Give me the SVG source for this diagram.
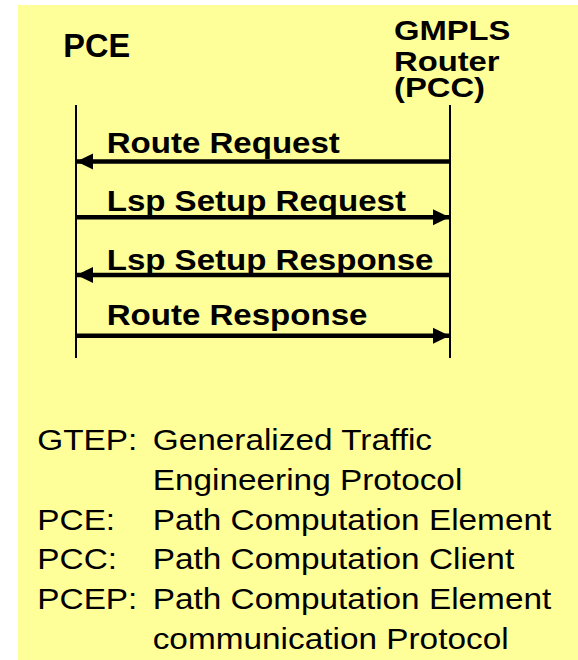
<svg xmlns="http://www.w3.org/2000/svg" width="578" height="660" viewBox="0 0 578 660">
<defs>
<style>
.bg{fill:#FFFF99}
.life{stroke:#000;stroke-width:2;fill:none}
.msg{stroke:#000;stroke-width:4.5;fill:none}
.b{font-family:"Liberation Sans",Arial,sans-serif;font-weight:bold;fill:#000}
.r{font-family:"Liberation Sans",Arial,sans-serif;fill:#000}
.lbl{font-size:29px}
.leg{font-size:29px}
</style>
<marker id="ah" markerUnits="userSpaceOnUse" markerWidth="17" markerHeight="17" viewBox="0 0 17 17" refX="16" refY="8.5" orient="auto">
<path d="M0,0.5 L16.5,8.5 L0,16.5 Z" fill="#000"/>
</marker>
</defs>
<rect class="bg" x="18" y="5" width="560" height="655"/>
<g id="pce">
<text class="b" x="63.3" y="57" font-size="32.5">PCE</text>
<line class="life" x1="76" y1="105" x2="76" y2="358"/>
</g>
<g id="pcc">
<text class="b" font-size="28" transform="translate(394,40) scale(1.17,1)">GMPLS</text>
<text class="b" font-size="28" transform="translate(394,70.5) scale(1.17,1)">Router</text>
<text class="b" font-size="28" transform="translate(394,97) scale(1.17,1)">(PCC)</text>
<line class="life" x1="450" y1="105" x2="450" y2="358"/>
</g>
<g id="connectors">
<line class="msg" x1="450" y1="161.5" x2="77" y2="161.5" marker-end="url(#ah)"/>
<text class="b lbl" transform="translate(106.7,153.3) scale(1.14,1)">Route Request</text>
<line class="msg" x1="76" y1="217.3" x2="449" y2="217.3" marker-end="url(#ah)"/>
<text class="b lbl" transform="translate(106.7,210.7) scale(1.14,1)">Lsp Setup Request</text>
<line class="msg" x1="450" y1="275" x2="77" y2="275" marker-end="url(#ah)"/>
<text class="b lbl" transform="translate(106.7,270) scale(1.14,1)">Lsp Setup Response</text>
<line class="msg" x1="76" y1="335.7" x2="449" y2="335.7" marker-end="url(#ah)"/>
<text class="b lbl" transform="translate(106.7,325) scale(1.14,1)">Route Response</text>
</g>
<g id="legend">
<text class="r leg" transform="translate(37.3,450) scale(1.15,1)">GTEP:</text>
<text class="r leg" transform="translate(152.7,450) scale(1.15,1)">Generalized Traffic</text>
<text class="r leg" transform="translate(152.7,490) scale(1.15,1)">Engineering Protocol</text>
<text class="r leg" transform="translate(37.3,529.5) scale(1.15,1)">PCE:</text>
<text class="r leg" transform="translate(152.7,529.5) scale(1.15,1)">Path Computation Element</text>
<text class="r leg" transform="translate(37.3,569) scale(1.15,1)">PCC:</text>
<text class="r leg" transform="translate(152.7,569) scale(1.15,1)">Path Computation Client</text>
<text class="r leg" transform="translate(37.3,608.5) scale(1.15,1)">PCEP:</text>
<text class="r leg" transform="translate(152.7,608.5) scale(1.15,1)">Path Computation Element</text>
<text class="r leg" transform="translate(152.7,648.5) scale(1.15,1)">communication Protocol</text>
</g>
</svg>
